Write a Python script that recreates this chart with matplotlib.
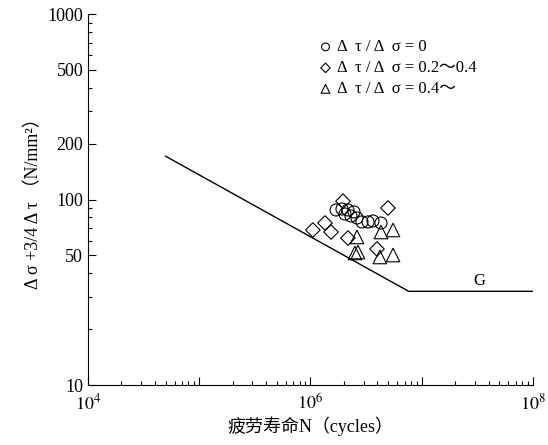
import matplotlib
matplotlib.use('Agg')
import matplotlib.pyplot as plt
from matplotlib.ticker import LogLocator, NullFormatter

plt.rcParams['font.family'] = ['Liberation Serif', 'Noto Sans CJK SC']
plt.rcParams['mathtext.fontset'] = 'stix'

# design curve G (JSSC)
line_N = [5e4, 7.63e6, 1e8]
line_S = [171, 32, 32]

# test data
circ_N = [1.70e6, 1.92e6, 2.17e6, 2.46e6, 2.62e6, 2.90e6, 3.29e6, 3.65e6, 4.30e6, 2.04e6, 2.31e6]
circ_S = [87.8, 88.9, 87.8, 85.7, 79.5, 75.7, 75.7, 76.6, 74.7, 83.5, 81.5]
diam_N = [1.05e6, 1.35e6, 1.53e6, 1.96e6, 2.17e6, 3.96e6, 4.97e6]
diam_S = [68.5, 74.7, 66.8, 98.0, 62.0, 54.1, 90.0]
tri_N = [2.62e6, 2.51e6, 2.67e6, 4.30e6, 5.52e6, 4.20e6, 5.52e6]
tri_S = [62.8, 51.5, 52.1, 66.8, 68.5, 49.0, 50.2]

yticks = [10, 50, 100, 200, 500, 1000]
xticks = [1e4, 1e5, 1e6, 1e7, 1e8]
xtick_labels = ['$10^4$', '', '$10^6$', '', '$10^8$']

fig = plt.figure(figsize=(5.48, 4.45), dpi=100)
ax = fig.add_axes([0.1606, 0.1348, 0.812, 0.8337])

ax.plot(line_N, line_S, color='black', lw=1.0)
ax.scatter(circ_N, circ_S, s=75, marker='o', facecolors='none', edgecolors='black', lw=0.8,
           label='Δ  τ / Δ  σ = 0')
ax.scatter(diam_N, diam_S, s=55, marker='D', facecolors='none', edgecolors='black', lw=0.8,
           label='Δ  τ / Δ  σ = 0.2～0.4')
ax.scatter(tri_N, tri_S, s=95, marker='^', facecolors='none', edgecolors='black', lw=0.8,
           label='Δ  τ / Δ  σ = 0.4～')
ax.text(3.3e7, 33, 'G', fontsize=12, ha='center', va='bottom')

ax.set_xscale('log')
ax.set_yscale('log')
ax.set_xlim(1e4, 1e8)
ax.set_ylim(10, 1000)

ax.set_xticks(xticks)
ax.set_xticklabels(xtick_labels)
ax.xaxis.set_minor_locator(LogLocator(base=10, subs=range(2, 10), numticks=50))
ax.xaxis.set_minor_formatter(NullFormatter())

ax.set_yticks(yticks)
ax.set_yticklabels([str(v) for v in yticks])
ax.yaxis.set_minor_locator(LogLocator(base=10, subs=range(2, 10), numticks=50))
ax.yaxis.set_minor_formatter(NullFormatter())

ax.tick_params(which='both', direction='in', labelsize=13, width=0.8)
ax.tick_params(which='major', length=6)
ax.tick_params(which='minor', length=3)
ax.tick_params(axis='x', pad=6)
for s in ['top', 'right']:
    ax.spines[s].set_visible(False)

ax.set_xlabel('疲劳寿命N（cycles）', fontsize=13, labelpad=2)
ax.set_ylabel('Δ σ +3/4 Δ τ （N/mm²）', fontsize=13, labelpad=4)

ax.legend(loc='upper left', bbox_to_anchor=(0.5, 0.95), frameon=False, fontsize=12,
          handletextpad=0.2, labelspacing=0.3, borderaxespad=0, handlelength=1.0,
          markerscale=0.65)

fig.savefig('out.png', dpi=100)
